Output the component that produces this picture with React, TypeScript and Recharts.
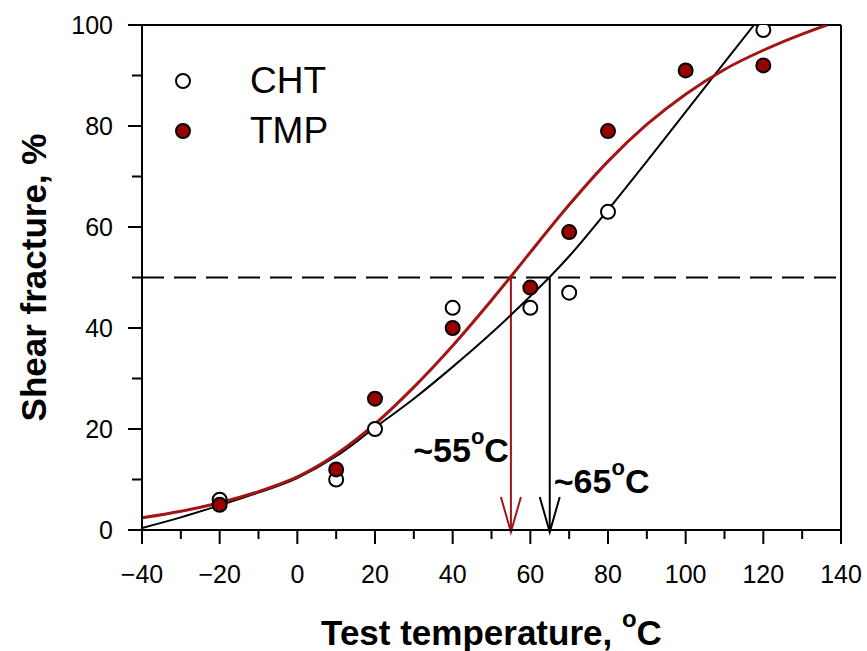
import React from 'react';
import { ComposedChart, Line, Scatter, XAxis, YAxis, ReferenceLine, Legend } from 'recharts';

const FONT = '"Liberation Sans", Arial, Helvetica, sans-serif';
const RED_LINE = '#a31414';
const RED_FILL = '#990000';

// axis ticks (minor every 10, labelled every 20)
const xTicks = [-40, -30, -20, -10, 0, 10, 20, 30, 40, 50, 60, 70, 80, 90, 100, 110, 120, 130, 140];
const yTicks = [0, 10, 20, 30, 40, 50, 60, 70, 80, 90, 100];

// measured points
const chtTemp = [-20, 10, 20, 40, 60, 70, 80, 120];
const chtShear = [6, 10, 20, 44, 44, 47, 63, 99];
const tmpTemp = [-20, 10, 20, 40, 60, 70, 80, 100, 120];
const tmpShear = [5, 12, 26, 40, 48, 59, 79, 91, 92];

// fitted curves
const chtFitTemp = [-40, -30, -20, -10, 0, 10, 20, 30, 40, 50, 60, 65, 70, 80, 90, 100, 110, 117.6];
const chtFitShear = [0.4, 2.5, 4.9, 7.4, 10.3, 14.6, 20.3, 26, 32.3, 39, 46.3, 50.1, 54.2, 63.4, 73, 82.8, 92.6, 100];
const tmpFitTemp = [-40, -30, -20, -10, 0, 10, 20, 30, 40, 50, 55, 60, 70, 80, 90, 100, 110, 120, 130, 136.4];
const tmpFitShear = [2.4, 3.7, 5.4, 7.6, 10.5, 15, 21, 28.3, 36.5, 45.5, 50.2, 55, 64.4, 73, 80.3, 86.3, 91.2, 95, 98.2, 100];

// 50 % shear fracture transition temperatures
const halfLevel = 50;
const tmpT50 = 55;
const chtT50 = 65;

const seriesNames = ['CHT', 'TMP'];
const seriesFills = ['#ffffff', RED_FILL];

const toPoints = (xs: number[], ys: number[]) => xs.map((x, i) => ({ x, y: ys[i] }));

const chtData = toPoints(chtTemp, chtShear);
const tmpData = toPoints(tmpTemp, tmpShear);
const chtFit = toPoints(chtFitTemp, chtFitShear);
const tmpFit = toPoints(tmpFitTemp, tmpFitShear);

const fmt = (v: number) => (v < 0 ? '\u2212' + Math.abs(v) : String(v));

function XTick(props: any) {
  const { x, y, payload } = props;
  const major = payload.value % 20 === 0;
  return (
    <g>
      <line x1={x} y1={y} x2={x} y2={y + (major ? 14 : 9)} stroke="#000" strokeWidth={2} />
      {major && (
        <text x={x} y={y + 53} textAnchor="middle" fontSize={25} fontFamily={FONT} fill="#000">
          {fmt(payload.value)}
        </text>
      )}
    </g>
  );
}

function YTick(props: any) {
  const { x, y, payload } = props;
  const major = payload.value % 20 === 0;
  return (
    <g>
      <line x1={x - (major ? 14 : 10)} y1={y} x2={x} y2={y} stroke="#000" strokeWidth={2} />
      {major && (
        <text x={x - 29} y={y} dy="0.36em" textAnchor="end" fontSize={25} fontFamily={FONT} fill="#000">
          {payload.value}
        </text>
      )}
    </g>
  );
}

function dot(fill: string) {
  return (props: any) => (
    <circle cx={props.cx} cy={props.cy} r={7} fill={fill} stroke="#000" strokeWidth={2} />
  );
}

function arrow(color: string, temp: number, labelLeft: boolean, labelRise: number) {
  return (props: any) => {
    const x = props.x1;
    const top = Math.min(props.y1, props.y2);
    const bottom = Math.max(props.y1, props.y2);
    return (
      <g>
        <line x1={x} y1={top} x2={x} y2={bottom + 2} stroke={color} strokeWidth={2} />
        <polyline
          points={`${x - 10},${bottom - 33} ${x},${bottom + 2} ${x + 10},${bottom - 33}`}
          fill="none"
          stroke={color}
          strokeWidth={2}
        />
        <text
          x={labelLeft ? x - 2 : x + 4}
          y={bottom - labelRise}
          textAnchor={labelLeft ? 'end' : 'start'}
          fontSize={34}
          fontWeight="bold"
          fontFamily={FONT}
          fill="#000"
        >
          <tspan>{'~' + temp}</tspan>
          <tspan dy={-18} fontSize={22}>o</tspan>
          <tspan dy={18}>C</tspan>
        </text>
      </g>
    );
  };
}

function LegendBox(props: any) {
  const items = (props.payload || []).filter((p: any) => seriesNames.includes(p.value));
  return (
    <div style={{ fontFamily: FONT }}>
      {items.map((p: any) => {
        const i = seriesNames.indexOf(p.value);
        return (
          <div key={p.value} style={{ display: 'flex', alignItems: 'center', height: 50, lineHeight: '50px' }}>
            <svg width={22} height={22}>
              <circle cx={11} cy={11} r={7} fill={seriesFills[i]} stroke="#000" strokeWidth={2} />
            </svg>
            <span style={{ marginLeft: 56, fontSize: 37, color: '#000' }}>{p.value}</span>
          </div>
        );
      })}
    </div>
  );
}

function XTitle(props: any) {
  const vb = props.viewBox;
  return (
    <text x={vb.x + vb.width / 2} y={vb.y + 115} textAnchor="middle" fontSize={35} fontWeight="bold" fontFamily={FONT} fill="#000">
      <tspan>Test temperature, </tspan>
      <tspan dy={-18} fontSize={24}>o</tspan>
      <tspan dy={18}>C</tspan>
    </text>
  );
}

function YTitle(props: any) {
  const vb = props.viewBox;
  const cx = 46;
  const cy = vb.y + vb.height / 2;
  return (
    <text x={cx} y={cy} transform={`rotate(-90 ${cx} ${cy})`} textAnchor="middle" fontSize={35} fontWeight="bold" fontFamily={FONT} fill="#000">
      Shear fracture, %
    </text>
  );
}

export default function App() {
  return (
    <div style={{ position: 'absolute', left: 0, top: 0 }}>
      <ComposedChart width={867} height={651} margin={{ top: 25, right: 26, bottom: 0, left: 0 }}>
        <XAxis
          type="number"
          dataKey="x"
          domain={[-40, 140]}
          ticks={xTicks}
          interval={0}
          allowDataOverflow
          height={121}
          tickSize={0}
          tickMargin={0}
          tickLine={false}
          axisLine={{ stroke: '#000', strokeWidth: 2 }}
          tick={<XTick />}
          label={{ content: <XTitle /> }}
        />
        <YAxis
          type="number"
          dataKey="y"
          domain={[0, 100]}
          ticks={yTicks}
          interval={0}
          allowDataOverflow
          width={142}
          tickSize={0}
          tickMargin={0}
          tickLine={false}
          axisLine={{ stroke: '#000', strokeWidth: 2 }}
          tick={<YTick />}
          label={{ content: <YTitle /> }}
        />
        <ReferenceLine y={100} stroke="#000" strokeWidth={2} />
        <ReferenceLine x={140} stroke="#000" strokeWidth={2} />
        <ReferenceLine y={halfLevel} stroke="#000" strokeWidth={2} strokeDasharray="22 10" />
        <ReferenceLine
          segment={[{ x: tmpT50, y: halfLevel }, { x: tmpT50, y: 0 }]}
          shape={arrow(RED_LINE, tmpT50, true, 68)}
        />
        <ReferenceLine
          segment={[{ x: chtT50, y: halfLevel }, { x: chtT50, y: 0 }]}
          shape={arrow('#000', chtT50, false, 37)}
        />
        <Line data={chtFit} dataKey="y" type="monotone" stroke="#000" strokeWidth={2} dot={false} legendType="none" isAnimationActive={false} />
        <Line data={tmpFit} dataKey="y" type="monotone" stroke={RED_LINE} strokeWidth={3} dot={false} legendType="none" isAnimationActive={false} />
        <Scatter name="CHT" data={chtData} fill="#ffffff" shape={dot('#ffffff')} isAnimationActive={false} />
        <Scatter name="TMP" data={tmpData} fill={RED_FILL} shape={dot(RED_FILL)} isAnimationActive={false} />
        <Legend
          layout="vertical"
          align="center"
          verticalAlign="middle"
          wrapperStyle={{ left: 172, top: 56, width: 'auto' }}
          content={<LegendBox />}
        />
      </ComposedChart>
    </div>
  );
}
